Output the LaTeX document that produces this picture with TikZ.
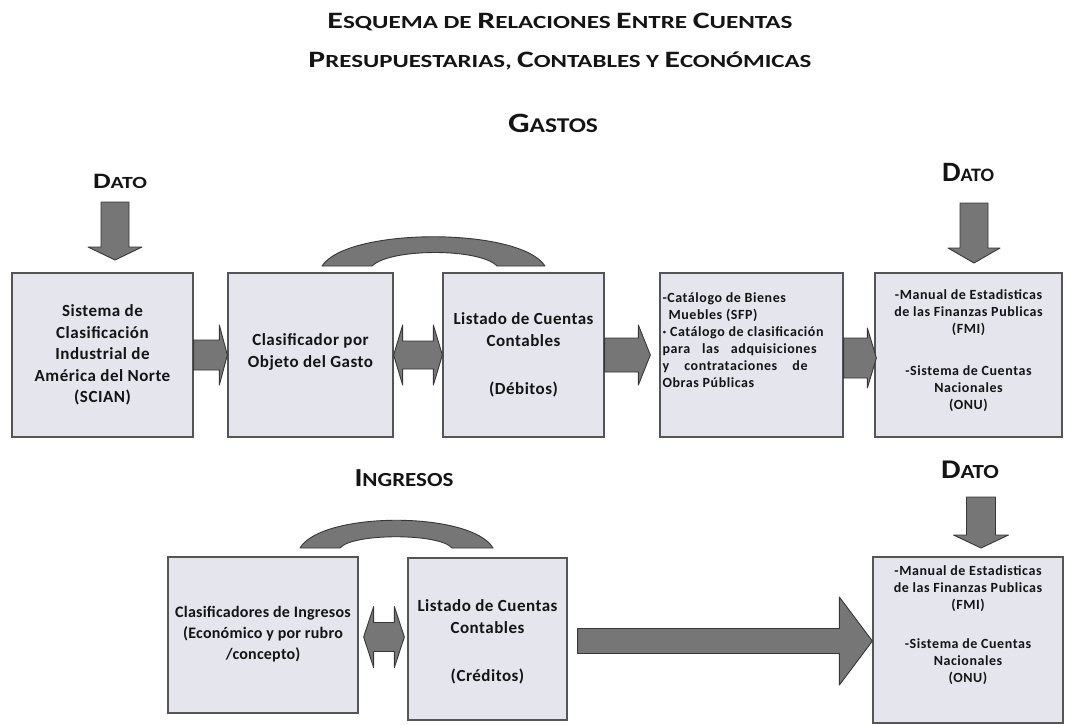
\documentclass[tikz,border=0pt]{standalone}
\usepackage{fontspec}
\setmainfont{Carlito}
\usepackage{graphicx}
\usetikzlibrary{calc}
\definecolor{boxfill}{RGB}{229,229,237}
\definecolor{boxline}{RGB}{85,85,85}
\definecolor{arrfill}{RGB}{118,118,118}
\definecolor{arrline}{RGB}{55,55,55}
\definecolor{txt}{RGB}{20,20,20}
\newcommand\scx[4]{{\fontsize{#1}{#1}\selectfont #3}{\fontsize{#2}{#2}\selectfont #4}}
\newcommand\tA[2]{\scx{23.5}{18.5}{#1}{#2}}
\newcommand\harrow[5]{\filldraw[arrstyle] let \p1=(#1), \p2=(#2) in (\x1,\y2+#3) -- (\x2-#5,\y2+#3) -- (\x2-#5,\y2+#4) -- (\x2,\y2) -- (\x2-#5,\y2-#4) -- (\x2-#5,\y2-#3) -- (\x1,\y2-#3) -- cycle;}
\newcommand\dblarrow[5]{\filldraw[arrstyle] let \p1=(#1), \p2=(#2) in (\x1,\y2) -- (\x1+#5,\y2+#4) -- (\x1+#5,\y2+#3) -- (\x2-#5,\y2+#3) -- (\x2-#5,\y2+#4) -- (\x2,\y2) -- (\x2-#5,\y2-#4) -- (\x2-#5,\y2-#3) -- (\x1+#5,\y2-#3) -- (\x1+#5,\y2-#4) -- cycle;}
\newcommand\varrow[5]{\filldraw[arrstyle] let \p1=(#1), \p2=(#2) in (\x2-#3,\y1) -- (\x2+#3,\y1) -- (\x2+#3,\y2+#5) -- (\x2+#4,\y2+#5) -- (\x2,\y2) -- (\x2-#4,\y2+#5) -- (\x2-#3,\y2+#5) -- cycle;}
\begin{document}
\begin{tikzpicture}[x=1pt,y=-1pt,
  box/.style={draw=boxline, fill=boxfill, line width=1.3pt, inner sep=0pt},
  bigtxt/.style={font=\fontsize{17}{21.5}\selectfont\bfseries\addfontfeature{LetterSpace=3}, align=center, text=txt},
  midtxt/.style={font=\fontsize{16}{21}\selectfont\bfseries\addfontfeature{LetterSpace=1.5}, align=center, text=txt},
  smalltxt/.style={font=\fontsize{14}{17}\selectfont\bfseries\addfontfeature{LetterSpace=4}, text=txt, inner sep=0pt},
  headtxt/.style={font=\fontsize{18}{18}\selectfont\bfseries, text=txt, inner sep=0pt},
  arrstyle/.style={fill=arrfill, draw=arrline, line width=0.9pt, line join=round},
]
\useasboundingbox[fill=white] (0,0) rectangle (1067,724);

% titles
\node[headtxt] (t1) at (560,22) {\resizebox{465pt}{\height}{\tA{E}{SQUEMA} \tA{}{DE} \tA{R}{ELACIONES} \tA{E}{NTRE} \tA{C}{UENTAS}}};
\node[headtxt] (t2) at (560,61) {\resizebox{503pt}{\height}{\tA{P}{RESUPUESTARIAS,} \tA{C}{ONTABLES} \tA{}{Y} \tA{E}{CONÓMICAS}}};
\node[headtxt] (gastos) at (553,123) {\resizebox{90pt}{\height}{\scx{28}{21}{G}{ASTOS}}};
\node[headtxt] (ingresos) at (404,478) {\resizebox{99pt}{\height}{\scx{26}{20}{I}{NGRESOS}}};
\node[headtxt] (dato1) at (120,181) {\resizebox{54pt}{\height}{\scx{22}{17}{D}{ATO}}};
\node[headtxt] (dato2) at (968,172) {\resizebox{52pt}{\height}{\scx{28}{19}{D}{ATO}}};
\node[headtxt] (dato3) at (970,470) {\resizebox{58pt}{\height}{\scx{27}{20}{D}{ATO}}};

% coordinates for boxes
\coordinate (c1) at (102.5,355);
\coordinate (c2) at (310.5,355);
\coordinate (c3) at (523.5,355);
\coordinate (c4) at (751.5,355);
\coordinate (c5) at (968.5,355);
\coordinate (c6) at (263,635);
\coordinate (c7) at (487.5,639);
\coordinate (c8) at (968,640);

% boxes
\node[box, minimum width=181pt, minimum height=164pt] (b1) at (c1) {};
\node[box, minimum width=165pt, minimum height=164pt] (b2) at (c2) {};
\node[box, minimum width=161pt, minimum height=164pt] (b3) at (c3) {};
\node[box, minimum width=183pt, minimum height=164pt] (b4) at (c4) {};
\node[box, minimum width=187pt, minimum height=164pt] (b5) at (c5) {};
\node[box, minimum width=190pt, minimum height=156pt] (b6) at (c6) {};
\node[box, minimum width=159pt, minimum height=162pt] (b7) at (c7) {};
\node[box, minimum width=190pt, minimum height=166pt] (b8) at (c8) {};

% box texts
\node[bigtxt] (b1t) at (b1.center) {Sistema de\\Clasificación\\Industrial de\\América del Norte\\(SCIAN)};
\node[bigtxt] (b2t) at ($(b2.center)+(0,-3)$) {Clasificador por\\Objeto del Gasto};
\node[bigtxt] (b3t) at (b3.center) {Listado de Cuentas\\Contables\\[27pt](Débitos)};
\node[smalltxt, anchor=north west, align=left] (b4t) at ($(b4.north west)+(3,20)$) {-Catálogo de Bienes\\\hspace*{6pt}Muebles (SFP)\\· Catálogo de clasificación\\\makebox[154pt][s]{para las adquisiciones}\\\makebox[145pt][s]{y contrataciones de}\\Obras Públicas};
\node[smalltxt, align=center, anchor=north] (b5t) at ($(b5.north)+(0,17)$) {-Manual de Estadisticas\\de las Finanzas Publicas\\(FMI)\\[25pt]-Sistema de Cuentas\\Nacionales\\(ONU)};
\node[midtxt] (b6t) at ($(b6.center)+(0,-1)$) {Clasificadores de Ingresos\\(Económico y por rubro\\/concepto)};
\node[bigtxt] (b7t) at ($(b7.center)+(0,3)$) {Listado de Cuentas\\Contables\\[27pt](Créditos)};
\node[smalltxt, align=center, anchor=north] (b8t) at ($(b8.north)+(0,9)$) {-Manual de Estadisticas\\de las Finanzas Publicas\\(FMI)\\[22pt]-Sistema de Cuentas\\Nacionales\\(ONU)};

% horizontal block arrows
\harrow{b1.east}{b2.west}{15pt}{30pt}{8pt}
\dblarrow{b2.east}{b3.west}{14pt}{30pt}{9pt}
\harrow{b3.east}{$(b4.west)+(-9,0)$}{17pt}{30pt}{12pt}
\harrow{b4.east}{$(b5.west)+(2,3)$}{20pt}{30pt}{9pt}
\dblarrow{$(b6.east)+(5,0)$}{$(b7.west)+(-3,-2)$}{14.5pt}{30.5pt}{10pt}
\harrow{$(b7.east)+(10,0)$}{$(b8.west)+(0,1)$}{12.5pt}{44pt}{33pt}

% vertical DATO arrows
\coordinate (d1s) at (115,202);
\coordinate (d1t) at (115,260);
\coordinate (d2s) at (974,203);
\coordinate (d2t) at (974,263);
\coordinate (d3s) at (981,497);
\coordinate (d3t) at (981,548);
\varrow{d1s}{d1t}{14pt}{27pt}{13pt}
\varrow{d2s}{d2t}{14pt}{26pt}{15pt}
\varrow{d3s}{d3t}{14.5pt}{27.5pt}{13pt}

% arcs
\filldraw[arrstyle] (322,266) .. controls (347,227) and (520,227) .. (545,266) -- (497,266) .. controls (480,248) and (390,248) .. (372,266) -- cycle;
\filldraw[arrstyle] (300,548) .. controls (322,511) and (471,511) .. (493,548) -- (452,548) .. controls (440,533) and (352,533) .. (340,548) -- cycle;
\end{tikzpicture}
\end{document}
